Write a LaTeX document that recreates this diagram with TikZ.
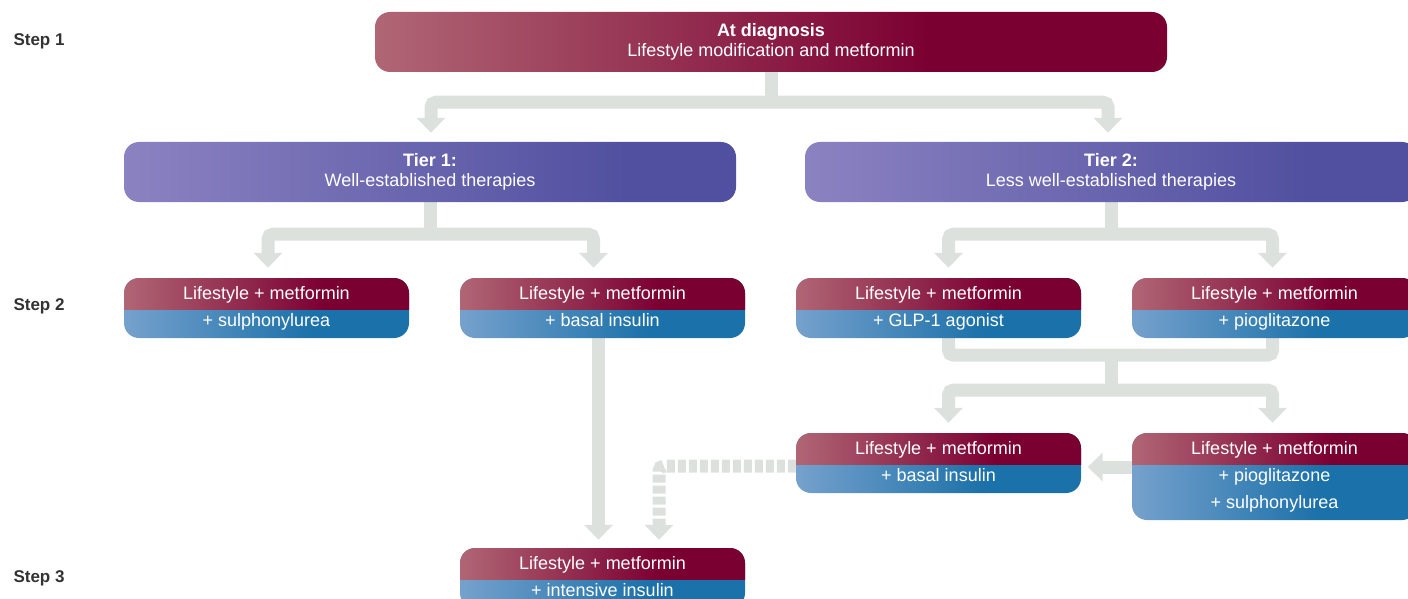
\documentclass[tikz,border=0pt]{standalone}
\usepackage{fontspec}
\setmainfont{Liberation Sans}
\usetikzlibrary{arrows.meta,backgrounds}

\definecolor{wine}{HTML}{7B0032}
\definecolor{winelight}{HTML}{B06675}
\definecolor{sea}{HTML}{1B71A9}
\definecolor{sealight}{HTML}{76A1CC}
\definecolor{violet}{HTML}{5150A0}
\definecolor{violetlight}{HTML}{8B82C1}
\definecolor{pipegrey}{HTML}{DCE1DE}
\definecolor{steptext}{HTML}{333333}

\pgfdeclarehorizontalshading{winefade}{100bp}{color(0bp)=(winelight); color(25bp)=(winelight); color(60bp)=(wine); color(100bp)=(wine)}
\pgfdeclarehorizontalshading{seafade}{100bp}{color(0bp)=(sealight); color(25bp)=(sealight); color(58bp)=(sea); color(100bp)=(sea)}
\pgfdeclarehorizontalshading{violetfade}{100bp}{color(0bp)=(violetlight); color(25bp)=(violetlight); color(66bp)=(violet); color(100bp)=(violet)}

\tikzset{
  steplabel/.style={anchor=west, text=steptext, font=\fontsize{17}{20}\selectfont\bfseries},
  headbox/.style={rounded corners=15pt, minimum height=60pt, inner sep=0pt, text=white,
    align=center, font=\fontsize{18}{20}\selectfont,
    execute at begin node={\rule{0pt}{16.5pt}}},
  duo/.style={rounded corners=15pt, minimum width=285pt, minimum height=60pt, inner sep=0pt,
    text=white, align=center, font=\fontsize{18}{27}\selectfont, shade, shading=seafade,
    path picture={\shade[sharp corners, shading=winefade] (path picture bounding box.north west)
      rectangle ([yshift=-31pt]path picture bounding box.north east);},
    execute at begin node={\rule{0pt}{16pt}},
    execute at end node={\vphantom{py}}},
  pipe/.style={draw=pipegrey, line width=13pt, rounded corners=5pt},
  flow/.style={pipe, -{Triangle[width=28pt,length=15pt]}}
}

\begin{document}
\begin{tikzpicture}[x=1pt,y=-1pt]
  \useasboundingbox (0,0) rectangle (1408,599);
  \clip (0,0) rectangle (1408,599);

  % steps
  \node[steplabel] (step1) at (10,41) {Step 1};
  \node[steplabel] (step2) at (10,306) {Step 2};
  \node[steplabel] (step3) at (10,578) {Step 3};

  % boxes
  \node[headbox, minimum width=792pt, shade, shading=winefade] (diag) at (771,42)
    {\textbf{At diagnosis}\\Lifestyle modification and metformin};
  \node[headbox, minimum width=612pt, shade, shading=violetfade] (tier1) at (430,172)
    {\textbf{Tier 1:}\\Well-established therapies};
  \node[headbox, minimum width=612pt, shade, shading=violetfade] (tier2) at (1111,172)
    {\textbf{Tier 2:}\\Less well-established therapies};

  \node[duo] (sulph) at (266.5,308) {Lifestyle + metformin\\+ sulphonylurea};
  \node[duo] (basal) at (602.5,308) {Lifestyle + metformin\\+ basal insulin};
  \node[duo] (glp) at (938.5,308) {Lifestyle + metformin\\+ GLP-1 agonist};
  \node[duo] (pio) at (1274.5,308) {Lifestyle + metformin\\+ pioglitazone};
  \node[duo] (basal2) at (938.5,463) {Lifestyle + metformin\\+ basal insulin};
  \node[duo, minimum height=87pt] (piosulph) at (1274.5,476.5)
    {Lifestyle + metformin\\+ pioglitazone\\+ sulphonylurea};
  \node[duo] (intens) at (602.5,578) {Lifestyle + metformin\\+ intensive insulin};

  % connectors
  \begin{scope}[on background layer]
    \draw[pipe] (diag.south) -- ++(0,30) coordinate (split0);
    \draw[flow, shorten >=9pt] (split0) -| ([xshift=1pt]tier1.north);
    \draw[flow, shorten >=9pt] (split0) -| ([xshift=-3pt]tier2.north);

    \draw[pipe] (tier1.south) -- ++(0,32) coordinate (split1);
    \draw[flow, shorten >=10pt] (split1) -| ([xshift=1.5pt]sulph.north);
    \draw[flow, shorten >=10pt] (split1) -| ([xshift=-9pt]basal.north);

    \draw[pipe] (tier2.south) -- ++(0,32) coordinate (split2);
    \draw[flow, shorten >=10pt] (split2) -| ([xshift=10pt]glp.north);
    \draw[flow, shorten >=10pt] (split2) -| ([xshift=-2pt]pio.north);

    \draw[pipe] ([xshift=10pt]glp.south) -- ++(0,17) -| ([xshift=-2pt]pio.south);
    \coordinate (merge) at (1111,355);
    \draw[pipe] (merge) -- ++(0,35) coordinate (split3);
    \draw[flow, shorten >=10pt] (split3) -| ([xshift=10pt]basal2.north);
    \draw[flow, shorten >=10pt] (split3) -| ([xshift=-2pt]piosulph.north);

    \draw[flow, shorten >=6.5pt] ([yshift=9.5pt]piosulph.west) -- ([yshift=-4pt]basal2.east);
    \draw[flow, shorten >=8pt] ([xshift=-4pt]basal.south) -- ([xshift=-4pt]intens.north);
    \draw[flow, dash pattern=on 8pt off 3pt, shorten >=8pt]
      ([yshift=-3pt]basal2.west) -| ([xshift=56.5pt]intens.north);
  \end{scope}
\end{tikzpicture}
\end{document}
